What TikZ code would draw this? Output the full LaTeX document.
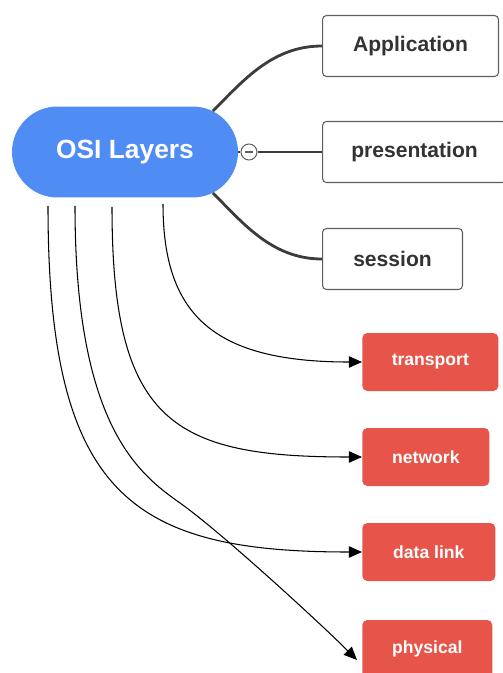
\documentclass[tikz,border=0pt]{standalone}
\usepackage{fontspec}
\setmainfont{Liberation Sans}
\usepackage{xcolor}
\usepackage{tikz}
\usetikzlibrary{shapes.misc, arrows.meta, positioning, calc}
\definecolor{rootcolor}{RGB}{79,141,245}
\definecolor{layercolor}{RGB}{231,84,74}
\definecolor{branchcolor}{RGB}{60,60,60}
\definecolor{framecolor}{RGB}{95,95,95}

\begin{document}
\begin{tikzpicture}[x=0.02cm, y=-0.02cm,
    rootnode/.style={rounded rectangle, fill=rootcolor, text=white, minimum width=4.52cm, minimum height=1.82cm, inner sep=0pt, font=\bfseries\fontsize{15}{18}\selectfont},
    upperbox/.style={draw=framecolor, line width=0.6pt, fill=white, rounded corners=0.08cm, anchor=west, minimum height=1.22cm, inner sep=0pt, text=black!80, font=\bfseries\fontsize{12}{14}\selectfont},
    lowerbox/.style={fill=layercolor, rounded corners=0.1cm, anchor=west, minimum height=1.16cm, inner sep=0pt, text=white, font=\bfseries\fontsize{10}{12}\selectfont},
    branch/.style={draw=branchcolor, line width=1.6pt},
    arrowline/.style={draw=black, line width=0.6pt, -{Triangle[length=7.5pt,width=6.5pt]}},
    foldmark/.style={circle, draw=framecolor, fill=white, line width=0.6pt, minimum size=0.32cm, inner sep=0pt}
]
    \useasboundingbox (0,0) rectangle (503,673);

    % Root
    \node[rootnode] (osi) at (125,152) {OSI Layers};
    \node[foldmark] (fold) at (249,152) {};

    % Upper layers
    \node[upperbox, minimum width=3.52cm] (app) at (322,46) {Application};
    \node[upperbox, minimum width=3.68cm] (pres) at (322,152) {presentation};
    \node[upperbox, minimum width=2.8cm] (sess) at (322,259) {session};

    % Lower layers
    \node[lowerbox, minimum width=2.72cm] (trans) at (362,362) {transport};
    \node[lowerbox, minimum width=2.54cm] (net) at (362,457) {network};
    \node[lowerbox, minimum width=2.66cm] (dlink) at (362,552) {data link};
    \node[lowerbox, minimum width=2.6cm] (phys) at (362,649) {physical};

    % Branches to the upper layers
    \draw[branch] (osi.25) .. controls +(30,-30) and +(-50,0) .. (app.west);
    \draw[branch] (osi.east) -- (fold.west);
    \draw[branch] (fold.east) -- (pres.west);
    \draw[branch] (osi.-25) .. controls +(30,30) and +(-50,0) .. (sess.west);
    \draw[framecolor, line width=0.6pt] ($(fold.center)+(-4,0)$) -- ($(fold.center)+(4,0)$);

    % Arrows to the lower layers
    \coordinate (physbend) at (180,503);
    \draw[arrowline] ($(osi.south)+(38,6)$) .. controls +(0,110) and +(-150,0) .. (trans.west);
    \draw[arrowline] ($(osi.south)+(-13,9)$) .. controls +(0,215) and +(-190,0) .. (net.west);
    \draw[arrowline] ($(osi.south)+(-77,8)$) .. controls +(0,290) and +(-230,0) .. (dlink.west);
    \draw[arrowline] ($(osi.south)+(-50,8)$) .. controls +(0,220) and +(-41,-29) .. (physbend)
        .. controls +(41,29) and +(-36,-36) .. ([shift={(-5,11)}]phys.west);
\end{tikzpicture}
\end{document}
